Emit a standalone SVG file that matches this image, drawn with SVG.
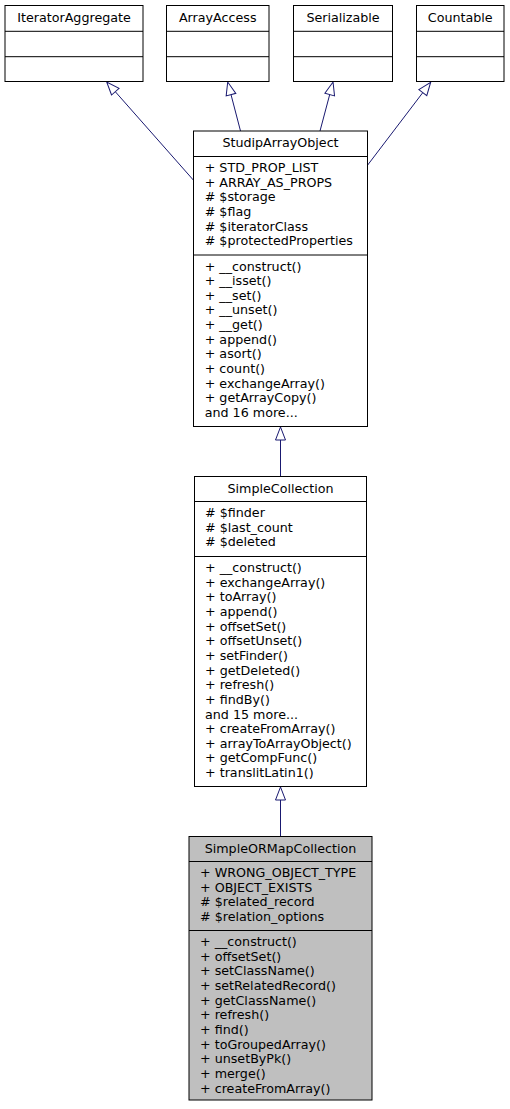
<svg xmlns="http://www.w3.org/2000/svg" width="510" height="1109" viewBox="0 0 510 1109">
<style>
  .box { fill: #ffffff; stroke: #000000; stroke-width: 1; }
  .cur { fill: #bfbfbf; stroke: #000000; stroke-width: 1; }
  .div { stroke: #000000; stroke-width: 1; fill: none; }
  text { font-family: "DejaVu Sans", "Liberation Sans", sans-serif; font-size: 12.7px; fill: #000000; }
  .t { text-anchor: middle; }
  .edge { stroke: #191970; stroke-width: 1; fill: none; marker-end: url(#inh); }
</style>
<defs>
  <marker id="inh" markerUnits="userSpaceOnUse" markerWidth="16" markerHeight="14" refX="0" refY="6" orient="auto" overflow="visible">
    <path d="M0,1 L13,6 L0,11 Z" fill="#ffffff" stroke="#191970" stroke-width="1"/>
  </marker>
</defs>
<rect width="510" height="1109" fill="#ffffff"/>

<g id="connectors">
  <path class="edge" d="M193.3,180 L115.3,91.7"/>
  <path class="edge" d="M240.5,131 L231,94.6"/>
  <path class="edge" d="M320,131 L329.7,94.6"/>
  <path class="edge" d="M367.7,165 L422.8,92.6"/>
  <path class="edge" d="M280.5,476.5 L280.5,440"/>
  <path class="edge" d="M280.5,836.5 L280.5,800"/>
</g>

<g id="IteratorAggregate">
  <rect class="box" x="5" y="5.5" width="138" height="76"/>
  <line class="div" x1="5" y1="31.3" x2="143" y2="31.3"/>
  <line class="div" x1="5" y1="56.7" x2="143" y2="56.7"/>
  <text class="t" x="74" y="21.5">IteratorAggregate</text>
</g>
<g id="ArrayAccess">
  <rect class="box" x="166.5" y="5.5" width="102.5" height="76"/>
  <line class="div" x1="166.5" y1="31.3" x2="269" y2="31.3"/>
  <line class="div" x1="166.5" y1="56.7" x2="269" y2="56.7"/>
  <text class="t" x="217.75" y="21.5">ArrayAccess</text>
</g>
<g id="Serializable">
  <rect class="box" x="293.5" y="5.5" width="99" height="76"/>
  <line class="div" x1="293.5" y1="31.3" x2="392.5" y2="31.3"/>
  <line class="div" x1="293.5" y1="56.7" x2="392.5" y2="56.7"/>
  <text class="t" x="343" y="21.5">Serializable</text>
</g>
<g id="Countable">
  <rect class="box" x="416.5" y="5.5" width="87.5" height="76"/>
  <line class="div" x1="416.5" y1="31.3" x2="504" y2="31.3"/>
  <line class="div" x1="416.5" y1="56.7" x2="504" y2="56.7"/>
  <text class="t" x="460.25" y="21.5">Countable</text>
</g>

<g id="StudipArrayObject">
  <rect class="box" x="193.5" y="131" width="174" height="295.5"/>
  <line class="div" x1="193.5" y1="156.5" x2="367.5" y2="156.5"/>
  <line class="div" x1="193.5" y1="255" x2="367.5" y2="255"/>
  <text class="t" x="280.5" y="147">StudipArrayObject</text>
  <text x="204.7" y="172"><tspan x="204.7">+ STD_PROP_LIST</tspan><tspan x="204.7" dy="14.65">+ ARRAY_AS_PROPS</tspan><tspan x="204.7" dy="14.65"># $storage</tspan><tspan x="204.7" dy="14.65"># $flag</tspan><tspan x="204.7" dy="14.65"># $iteratorClass</tspan><tspan x="204.7" dy="14.65"># $protectedProperties</tspan></text>
  <text x="204.7" y="270.5"><tspan x="204.7">+ __construct()</tspan><tspan x="204.7" dy="14.65">+ __isset()</tspan><tspan x="204.7" dy="14.65">+ __set()</tspan><tspan x="204.7" dy="14.65">+ __unset()</tspan><tspan x="204.7" dy="14.65">+ __get()</tspan><tspan x="204.7" dy="14.65">+ append()</tspan><tspan x="204.7" dy="14.65">+ asort()</tspan><tspan x="204.7" dy="14.65">+ count()</tspan><tspan x="204.7" dy="14.65">+ exchangeArray()</tspan><tspan x="204.7" dy="14.65">+ getArrayCopy()</tspan><tspan x="204.7" dy="14.65">and 16 more...</tspan></text>
</g>

<g id="SimpleCollection">
  <rect class="box" x="194.5" y="476.5" width="172" height="310"/>
  <line class="div" x1="194.5" y1="501.5" x2="366.5" y2="501.5"/>
  <line class="div" x1="194.5" y1="556.5" x2="366.5" y2="556.5"/>
  <text class="t" x="280.5" y="492.5">SimpleCollection</text>
  <text x="205" y="517"><tspan x="205"># $finder</tspan><tspan x="205" dy="14.65"># $last_count</tspan><tspan x="205" dy="14.65"># $deleted</tspan></text>
  <text x="205" y="572"><tspan x="205">+ __construct()</tspan><tspan x="205" dy="14.65">+ exchangeArray()</tspan><tspan x="205" dy="14.65">+ toArray()</tspan><tspan x="205" dy="14.65">+ append()</tspan><tspan x="205" dy="14.65">+ offsetSet()</tspan><tspan x="205" dy="14.65">+ offsetUnset()</tspan><tspan x="205" dy="14.65">+ setFinder()</tspan><tspan x="205" dy="14.65">+ getDeleted()</tspan><tspan x="205" dy="14.65">+ refresh()</tspan><tspan x="205" dy="14.65">+ findBy()</tspan><tspan x="205" dy="14.65">and 15 more...</tspan><tspan x="205" dy="14.65">+ createFromArray()</tspan><tspan x="205" dy="14.65">+ arrayToArrayObject()</tspan><tspan x="205" dy="14.65">+ getCompFunc()</tspan><tspan x="205" dy="14.65">+ translitLatin1()</tspan></text>
</g>

<g id="SimpleORMapCollection">
  <rect class="cur" x="189" y="836.5" width="183" height="263.5"/>
  <line class="div" x1="189" y1="861.5" x2="372" y2="861.5"/>
  <line class="div" x1="189" y1="930.5" x2="372" y2="930.5"/>
  <text class="t" x="280.5" y="852.5">SimpleORMapCollection</text>
  <text x="200" y="877"><tspan x="200">+ WRONG_OBJECT_TYPE</tspan><tspan x="200" dy="14.65">+ OBJECT_EXISTS</tspan><tspan x="200" dy="14.65"># $related_record</tspan><tspan x="200" dy="14.65"># $relation_options</tspan></text>
  <text x="200" y="946"><tspan x="200">+ __construct()</tspan><tspan x="200" dy="14.65">+ offsetSet()</tspan><tspan x="200" dy="14.65">+ setClassName()</tspan><tspan x="200" dy="14.65">+ setRelatedRecord()</tspan><tspan x="200" dy="14.65">+ getClassName()</tspan><tspan x="200" dy="14.65">+ refresh()</tspan><tspan x="200" dy="14.65">+ find()</tspan><tspan x="200" dy="14.65">+ toGroupedArray()</tspan><tspan x="200" dy="14.65">+ unsetByPk()</tspan><tspan x="200" dy="14.65">+ merge()</tspan><tspan x="200" dy="14.65">+ createFromArray()</tspan></text>
</g>
</svg>
